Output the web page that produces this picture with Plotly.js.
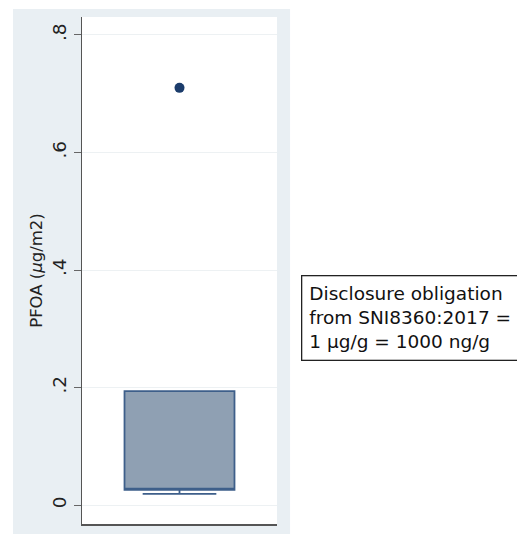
<!DOCTYPE html>
<html>
<head>
<meta charset="utf-8">
<script src="https://cdn.plot.ly/plotly-3.0.1.min.js"></script>
<style>html,body{margin:0;padding:0;background:#fff;}#chart{width:517px;height:534px;}</style>
</head>
<body>
<div id="chart"></div>
<script>
// Box statistics (PFOA, µg/m2)
const boxPosition = [0];
const q1Values = [0.026];
const medianValues = [0.027];
const q3Values = [0.194];
const lowerFence = [0.019];
const upperFence = [0.194];
// Outlier(s)
const outlierX = [0];
const outlierY = [0.71];
// Y ticks
const yTickVals = [0, 0.2, 0.4, 0.6, 0.8];
const yTickText = ['0', '.2', '.4', '.6', '.8'];
const noteLines = ['Disclosure obligation', 'from SNI8360:2017 =', '1 µg/g = 1000 ng/g'];

const font = 'DejaVu Sans, Liberation Sans, Arial, sans-serif';

const traces = [
  {
    type: 'box',
    x: boxPosition,
    q1: q1Values,
    median: medianValues,
    q3: q3Values,
    lowerfence: lowerFence,
    upperfence: upperFence,
    boxpoints: false,
    width: 0.564,
    whiskerwidth: 0.67,
    fillcolor: '#8fa0b3',
    line: {color: '#3e5f8a', width: 1.8},
    hoverinfo: 'skip',
    showlegend: false
  },
  {
    type: 'scatter',
    mode: 'markers',
    x: outlierX,
    y: outlierY,
    marker: {color: '#1b3c6b', size: 10},
    hoverinfo: 'skip',
    showlegend: false
  }
];

const layout = {
  width: 517,
  height: 534,
  margin: {l: 82, r: 240, t: 17, b: 10},
  paper_bgcolor: '#ffffff',
  plot_bgcolor: '#ffffff',
  font: {family: font, color: '#222'},
  xaxis: {
    type: 'linear',
    range: [-0.5, 0.5],
    showticklabels: false,
    ticks: '',
    showgrid: false,
    zeroline: false,
    showline: true,
    linecolor: '#555',
    linewidth: 1.5,
    fixedrange: true
  },
  yaxis: {
    range: [-0.0323, 0.8306],
    tickvals: yTickVals,
    ticktext: yTickText,
    tickangle: -90,
    ticks: 'outside',
    ticklen: 7,
    tickcolor: '#666',
    tickfont: {size: 18.5, family: font, color: '#222'},
    showgrid: true,
    gridcolor: '#edf1f3',
    gridwidth: 1,
    zeroline: false,
    showline: true,
    linecolor: '#555',
    linewidth: 1.5,
    title: {text: 'PFOA (<i>µ</i>g/m2)', font: {size: 16.5, family: font, color: '#222'}, standoff: 2},
    automargin: false,
    fixedrange: true
  },
  shapes: [
    {type: 'rect', xref: 'paper', yref: 'paper', x0: -0.354, x1: 1.067, y0: -0.0197, y1: 1.0158,
     fillcolor: '#e9eff3', line: {width: 0}, layer: 'below'},
    {type: 'rect', xref: 'paper', yref: 'paper', x0: 0, x1: 1, y0: 0, y1: 1,
     fillcolor: '#ffffff', line: {width: 0}, layer: 'below'}
  ],
  annotations: [
    {
      xref: 'paper', yref: 'paper',
      x: 1.123, y: 0.406,
      xanchor: 'left', yanchor: 'middle',
      text: noteLines.join('<br>'),
      align: 'left',
      showarrow: false,
      font: {size: 18.5, family: font, color: '#111'},
      bordercolor: '#222',
      borderwidth: 1.3,
      borderpad: 7,
      bgcolor: '#ffffff'
    }
  ]
};

Plotly.newPlot('chart', traces, layout, {displayModeBar: false, staticPlot: true});
</script>
</body>
</html>
